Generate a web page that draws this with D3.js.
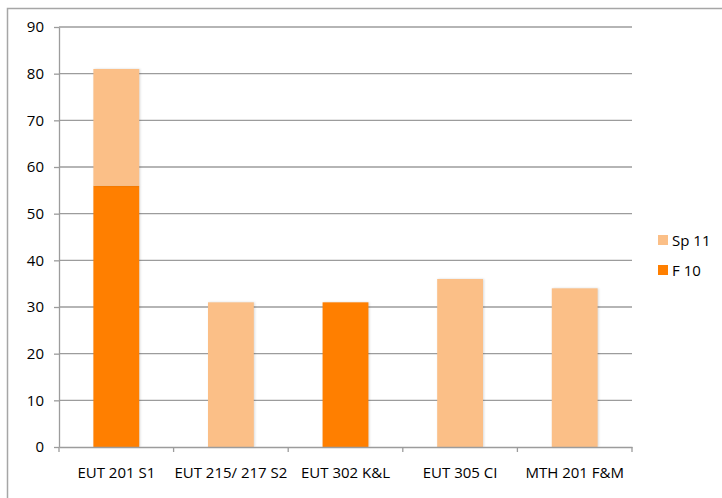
<!DOCTYPE html>
<html>
<head>
<meta charset="utf-8">
<script src="https://cdn.jsdelivr.net/npm/d3@7"></script>
<style>
  body { margin: 0; background: #fff; }
  text { font-family: "Open Sans", "Liberation Sans", sans-serif; fill: #000; }
</style>
</head>
<body>
<div id="chart"></div>
<script>
// chart data
var categories = ["EUT 201 S1", "EUT 215/ 217 S2", "EUT 302 K&L", "EUT 305 CI", "MTH 201 F&M"];
var f10 = [56, 0, 31, 0, 0];
var sp11 = [25, 31, 0, 36, 34];
var seriesNames = ["F 10", "Sp 11"];
var yTicks = [0, 10, 20, 30, 40, 50, 60, 70, 80, 90];

var colors = { "F 10": "#ff7f00", "Sp 11": "#fbbf87" };

var W = 722, H = 498;
var margin = { top: 27, right: 90, bottom: 51, left: 59 },
  width = 632 - margin.left,
  height = 447 - margin.top;

var svg = d3.select("#chart").append("svg")
  .attr("width", W).attr("height", H);

// outer frame
svg.append("rect")
  .attr("x", 7.5).attr("y", 8.5)
  .attr("width", 730).attr("height", 500)
  .attr("fill", "none").attr("stroke", "#a6a6a6").attr("stroke-width", 1.5);

var g = svg.append("g")
  .attr("transform", "translate(" + margin.left + "," + margin.top + ")");

// build stacked table
var table = categories.map(function (c, i) {
  return { cat: c, "F 10": f10[i], "Sp 11": sp11[i] };
});
var stacked = d3.stack().keys(seriesNames)(table);

var x = d3.scaleBand().domain(categories).range([0, width]).paddingInner(0.6).paddingOuter(0.3);
var xb = d3.scaleBand().domain(categories).range([0, width]);
var y = d3.scaleLinear().domain([0, 90]).range([height, 0]);

// gridlines
g.selectAll(".grid").data(yTicks.slice(1)).enter().append("line")
  .attr("x1", 0).attr("x2", width)
  .attr("y1", function (d) { return y(d); }).attr("y2", function (d) { return y(d); })
  .attr("stroke", "#9c9c9c").attr("stroke-width", 1.3);

// bars
var layers = g.selectAll(".layer").data(stacked).enter().append("g")
  .attr("fill", function (d) { return colors[d.key]; });

layers.selectAll("rect").data(function (d) { return d; }).enter().append("rect")
  .filter(function (d) { return d[1] > d[0]; })
  .attr("x", function (d) { return x(d.data.cat); })
  .attr("width", x.bandwidth())
  .attr("y", function (d) { return y(d[1]); })
  .attr("height", function (d) { return y(d[0]) - y(d[1]); })
  .style("filter", "drop-shadow(1px 0px 1px rgba(0,0,0,0.15))");

// y axis
var yAxis = g.append("g")
  .call(d3.axisLeft(y).tickValues(yTicks).tickSize(5).tickPadding(10).tickSizeOuter(0));
yAxis.select(".domain").attr("stroke", "#9c9c9c").attr("stroke-width", 1.3);
yAxis.selectAll(".tick line").attr("stroke", "#9c9c9c").attr("stroke-width", 1.3);
yAxis.selectAll("text").style("font-size", "15px");

// x axis
var xAxis = g.append("g").attr("transform", "translate(0," + height + ")")
  .call(d3.axisBottom(xb).tickSize(0).tickPadding(20).tickSizeOuter(0));
xAxis.select(".domain").attr("stroke", "#9c9c9c").attr("stroke-width", 1.3);
xAxis.selectAll("text").style("font-size", "15px");
// category separators
g.selectAll(".xt").data(d3.range(categories.length + 1)).enter().append("line")
  .attr("x1", function (d) { return d * xb.step(); })
  .attr("x2", function (d) { return d * xb.step(); })
  .attr("y1", height).attr("y2", height + 5)
  .attr("stroke", "#9c9c9c").attr("stroke-width", 1.3);

// legend
var legendKeys = ["Sp 11", "F 10"];
var legend = svg.append("g").attr("transform", "translate(658,235)");
legendKeys.forEach(function (k, i) {
  var row = legend.append("g").attr("transform", "translate(0," + i * 30 + ")");
  row.append("rect").attr("width", 10).attr("height", 10).attr("fill", colors[k]);
  row.append("text").attr("x", 14).attr("y", 10.5).style("font-size", "15px").text(k);
});
</script>
</body>
</html>
